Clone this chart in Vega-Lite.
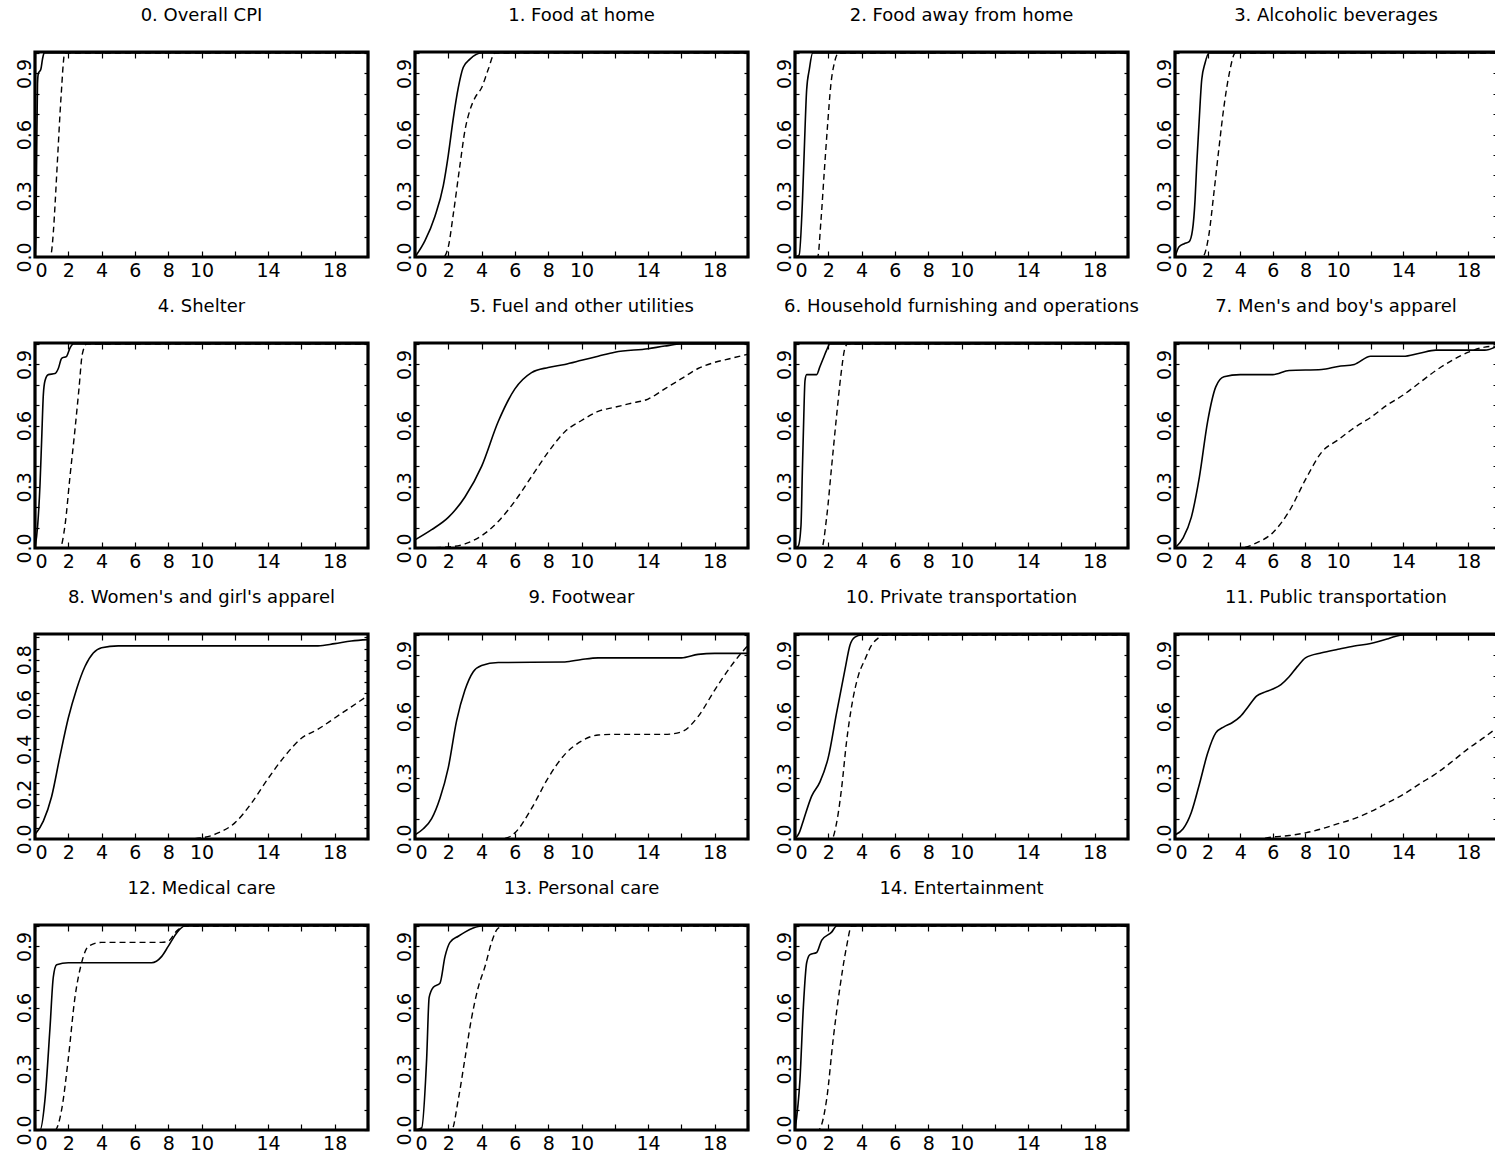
{
"$schema":"https://vega.github.io/schema/vega-lite/v6.json",
"background":"white",
"padding":{"left":13,"top":5,"right":0,"bottom":0},
"autosize":{"type":"pad"},
"config":{
 "view":{"stroke":"black","strokeWidth":3.2},
 "font":"DejaVu Sans",
 "title":{"font":"DejaVu Sans","fontSize":18,"fontWeight":"normal","color":"black","offset":26,"anchor":"middle"},
 "axis":{"domain":false,"grid":false,"tickColor":"black","tickWidth":1.2,"labelColor":"black","labelFont":"DejaVu Sans","labelFontSize":19,"labelOverlap":false}
},
"datasets":{"d":[
{"p":0,"s":"a","x":0,"y":0},{"p":0,"s":"a","x":0.05,"y":0.1},{"p":0,"s":"a","x":0.1,"y":0.5},{"p":0,"s":"a","x":0.15,"y":0.85},{"p":0,"s":"a","x":0.2,"y":0.9},{"p":0,"s":"a","x":0.35,"y":0.92},{"p":0,"s":"a","x":0.45,"y":0.97},{"p":0,"s":"a","x":0.55,"y":1.0},{"p":0,"s":"a","x":20,"y":1.0},
{"p":0,"s":"b","x":0,"y":0},{"p":0,"s":"b","x":0.9,"y":0},{"p":0,"s":"b","x":1.0,"y":0.03},{"p":0,"s":"b","x":1.1,"y":0.12},{"p":0,"s":"b","x":1.2,"y":0.25},{"p":0,"s":"b","x":1.3,"y":0.4},{"p":0,"s":"b","x":1.4,"y":0.55},{"p":0,"s":"b","x":1.5,"y":0.7},{"p":0,"s":"b","x":1.6,"y":0.83},{"p":0,"s":"b","x":1.7,"y":0.95},{"p":0,"s":"b","x":1.78,"y":1.0},{"p":0,"s":"b","x":20,"y":1.0},
{"p":1,"s":"a","x":0,"y":0},{"p":1,"s":"a","x":0.6,"y":0.08},{"p":1,"s":"a","x":1.2,"y":0.2},{"p":1,"s":"a","x":1.7,"y":0.35},{"p":1,"s":"a","x":2.0,"y":0.5},{"p":1,"s":"a","x":2.3,"y":0.68},{"p":1,"s":"a","x":2.6,"y":0.83},{"p":1,"s":"a","x":2.9,"y":0.93},{"p":1,"s":"a","x":3.3,"y":0.97},{"p":1,"s":"a","x":4.0,"y":1.0},{"p":1,"s":"a","x":20,"y":1.0},
{"p":1,"s":"b","x":0,"y":0},{"p":1,"s":"b","x":1.7,"y":0},{"p":1,"s":"b","x":2.0,"y":0.05},{"p":1,"s":"b","x":2.3,"y":0.21},{"p":1,"s":"b","x":2.7,"y":0.45},{"p":1,"s":"b","x":3.0,"y":0.62},{"p":1,"s":"b","x":3.3,"y":0.72},{"p":1,"s":"b","x":3.6,"y":0.78},{"p":1,"s":"b","x":4.0,"y":0.83},{"p":1,"s":"b","x":4.4,"y":0.92},{"p":1,"s":"b","x":4.8,"y":1.0},{"p":1,"s":"b","x":20,"y":1.0},
{"p":2,"s":"a","x":0,"y":0},{"p":2,"s":"a","x":0.25,"y":0.01},{"p":2,"s":"a","x":0.45,"y":0.28},{"p":2,"s":"a","x":0.56,"y":0.53},{"p":2,"s":"a","x":0.7,"y":0.82},{"p":2,"s":"a","x":0.86,"y":0.92},{"p":2,"s":"a","x":1.06,"y":1.0},{"p":2,"s":"a","x":20,"y":1.0},
{"p":2,"s":"b","x":0,"y":0},{"p":2,"s":"b","x":1.36,"y":0},{"p":2,"s":"b","x":1.56,"y":0.18},{"p":2,"s":"b","x":1.76,"y":0.42},{"p":2,"s":"b","x":1.96,"y":0.65},{"p":2,"s":"b","x":2.16,"y":0.85},{"p":2,"s":"b","x":2.36,"y":0.95},{"p":2,"s":"b","x":2.62,"y":1.0},{"p":2,"s":"b","x":20,"y":1.0},
{"p":3,"s":"a","x":0,"y":0},{"p":3,"s":"a","x":0.25,"y":0.05},{"p":3,"s":"a","x":0.57,"y":0.065},{"p":3,"s":"a","x":0.87,"y":0.075},{"p":3,"s":"a","x":1.07,"y":0.13},{"p":3,"s":"a","x":1.23,"y":0.28},{"p":3,"s":"a","x":1.33,"y":0.45},{"p":3,"s":"a","x":1.47,"y":0.65},{"p":3,"s":"a","x":1.64,"y":0.87},{"p":3,"s":"a","x":1.84,"y":0.95},{"p":3,"s":"a","x":2.08,"y":1.0},{"p":3,"s":"a","x":19.75,"y":1.0},
{"p":3,"s":"b","x":0,"y":0},{"p":3,"s":"b","x":1.68,"y":0},{"p":3,"s":"b","x":2.08,"y":0.11},{"p":3,"s":"b","x":2.38,"y":0.31},{"p":3,"s":"b","x":2.69,"y":0.53},{"p":3,"s":"b","x":2.99,"y":0.73},{"p":3,"s":"b","x":3.33,"y":0.9},{"p":3,"s":"b","x":3.7,"y":1.0},{"p":3,"s":"b","x":19.75,"y":1.0},
{"p":4,"s":"a","x":0,"y":0},{"p":4,"s":"a","x":0.16,"y":0.11},{"p":4,"s":"a","x":0.3,"y":0.31},{"p":4,"s":"a","x":0.4,"y":0.53},{"p":4,"s":"a","x":0.5,"y":0.75},{"p":4,"s":"a","x":0.6,"y":0.82},{"p":4,"s":"a","x":0.8,"y":0.85},{"p":4,"s":"a","x":1.2,"y":0.855},{"p":4,"s":"a","x":1.4,"y":0.88},{"p":4,"s":"a","x":1.6,"y":0.93},{"p":4,"s":"a","x":1.9,"y":0.94},{"p":4,"s":"a","x":2.1,"y":0.98},{"p":4,"s":"a","x":2.3,"y":1.0},{"p":4,"s":"a","x":20,"y":1.0},
{"p":4,"s":"b","x":0,"y":0},{"p":4,"s":"b","x":1.5,"y":0},{"p":4,"s":"b","x":1.8,"y":0.11},{"p":4,"s":"b","x":2.1,"y":0.35},{"p":4,"s":"b","x":2.4,"y":0.58},{"p":4,"s":"b","x":2.64,"y":0.78},{"p":4,"s":"b","x":2.84,"y":0.95},{"p":4,"s":"b","x":3.1,"y":1.0},{"p":4,"s":"b","x":20,"y":1.0},
{"p":5,"s":"a","x":0,"y":0.04},{"p":5,"s":"a","x":1,"y":0.09},{"p":5,"s":"a","x":2,"y":0.15},{"p":5,"s":"a","x":3,"y":0.25},{"p":5,"s":"a","x":4,"y":0.4},{"p":5,"s":"a","x":5,"y":0.62},{"p":5,"s":"a","x":6,"y":0.78},{"p":5,"s":"a","x":7,"y":0.86},{"p":5,"s":"a","x":8,"y":0.885},{"p":5,"s":"a","x":9,"y":0.9},{"p":5,"s":"a","x":10,"y":0.92},{"p":5,"s":"a","x":11,"y":0.94},{"p":5,"s":"a","x":12,"y":0.96},{"p":5,"s":"a","x":14,"y":0.977},{"p":5,"s":"a","x":15,"y":0.99},{"p":5,"s":"a","x":16,"y":1.0},{"p":5,"s":"a","x":20,"y":1.0},
{"p":5,"s":"b","x":0,"y":0},{"p":5,"s":"b","x":2,"y":0.005},{"p":5,"s":"b","x":3,"y":0.02},{"p":5,"s":"b","x":4,"y":0.06},{"p":5,"s":"b","x":5,"y":0.13},{"p":5,"s":"b","x":6,"y":0.23},{"p":5,"s":"b","x":7,"y":0.35},{"p":5,"s":"b","x":8,"y":0.47},{"p":5,"s":"b","x":9,"y":0.57},{"p":5,"s":"b","x":10,"y":0.625},{"p":5,"s":"b","x":11,"y":0.67},{"p":5,"s":"b","x":12,"y":0.69},{"p":5,"s":"b","x":13,"y":0.71},{"p":5,"s":"b","x":14,"y":0.73},{"p":5,"s":"b","x":15,"y":0.78},{"p":5,"s":"b","x":16,"y":0.83},{"p":5,"s":"b","x":17,"y":0.88},{"p":5,"s":"b","x":18,"y":0.91},{"p":5,"s":"b","x":19,"y":0.93},{"p":5,"s":"b","x":20,"y":0.95},
{"p":6,"s":"a","x":0,"y":0},{"p":6,"s":"a","x":0.2,"y":0.01},{"p":6,"s":"a","x":0.36,"y":0.11},{"p":6,"s":"a","x":0.44,"y":0.37},{"p":6,"s":"a","x":0.52,"y":0.62},{"p":6,"s":"a","x":0.6,"y":0.82},{"p":6,"s":"a","x":0.7,"y":0.85},{"p":6,"s":"a","x":1.3,"y":0.85},{"p":6,"s":"a","x":1.5,"y":0.89},{"p":6,"s":"a","x":1.7,"y":0.93},{"p":6,"s":"a","x":1.9,"y":0.97},{"p":6,"s":"a","x":2.1,"y":1.0},{"p":6,"s":"a","x":20,"y":1.0},
{"p":6,"s":"b","x":0,"y":0},{"p":6,"s":"b","x":1.6,"y":0},{"p":6,"s":"b","x":1.9,"y":0.15},{"p":6,"s":"b","x":2.2,"y":0.4},{"p":6,"s":"b","x":2.5,"y":0.65},{"p":6,"s":"b","x":2.76,"y":0.85},{"p":6,"s":"b","x":3.0,"y":0.98},{"p":6,"s":"b","x":3.16,"y":1.0},{"p":6,"s":"b","x":20,"y":1.0},
{"p":7,"s":"a","x":0,"y":0},{"p":7,"s":"a","x":0.5,"y":0.05},{"p":7,"s":"a","x":1,"y":0.15},{"p":7,"s":"a","x":1.5,"y":0.35},{"p":7,"s":"a","x":2,"y":0.62},{"p":7,"s":"a","x":2.5,"y":0.79},{"p":7,"s":"a","x":3,"y":0.84},{"p":7,"s":"a","x":4,"y":0.85},{"p":7,"s":"a","x":6,"y":0.85},{"p":7,"s":"a","x":7,"y":0.87},{"p":7,"s":"a","x":9,"y":0.875},{"p":7,"s":"a","x":10,"y":0.89},{"p":7,"s":"a","x":11,"y":0.9},{"p":7,"s":"a","x":12,"y":0.94},{"p":7,"s":"a","x":14,"y":0.94},{"p":7,"s":"a","x":15,"y":0.955},{"p":7,"s":"a","x":16,"y":0.97},{"p":7,"s":"a","x":19,"y":0.97},{"p":7,"s":"a","x":19.75,"y":0.99},
{"p":7,"s":"b","x":0,"y":0},{"p":7,"s":"b","x":4,"y":0},{"p":7,"s":"b","x":5,"y":0.025},{"p":7,"s":"b","x":6,"y":0.075},{"p":7,"s":"b","x":7,"y":0.18},{"p":7,"s":"b","x":8,"y":0.335},{"p":7,"s":"b","x":9,"y":0.47},{"p":7,"s":"b","x":10,"y":0.53},{"p":7,"s":"b","x":11,"y":0.59},{"p":7,"s":"b","x":12,"y":0.64},{"p":7,"s":"b","x":13,"y":0.7},{"p":7,"s":"b","x":14,"y":0.75},{"p":7,"s":"b","x":15,"y":0.81},{"p":7,"s":"b","x":16,"y":0.87},{"p":7,"s":"b","x":17,"y":0.92},{"p":7,"s":"b","x":18,"y":0.96},{"p":7,"s":"b","x":19,"y":0.985},{"p":7,"s":"b","x":19.75,"y":0.99},
{"p":8,"s":"a","x":0,"y":0.02},{"p":8,"s":"a","x":0.5,"y":0.08},{"p":8,"s":"a","x":1,"y":0.19},{"p":8,"s":"a","x":1.5,"y":0.37},{"p":8,"s":"a","x":2,"y":0.54},{"p":8,"s":"a","x":2.5,"y":0.67},{"p":8,"s":"a","x":3,"y":0.77},{"p":8,"s":"a","x":3.5,"y":0.83},{"p":8,"s":"a","x":4,"y":0.854},{"p":8,"s":"a","x":5,"y":0.862},{"p":8,"s":"a","x":17,"y":0.862},{"p":8,"s":"a","x":18,"y":0.872},{"p":8,"s":"a","x":19,"y":0.884},{"p":8,"s":"a","x":20,"y":0.89},
{"p":8,"s":"b","x":0,"y":0},{"p":8,"s":"b","x":9,"y":0},{"p":8,"s":"b","x":10,"y":0.005},{"p":8,"s":"b","x":11,"y":0.027},{"p":8,"s":"b","x":12,"y":0.072},{"p":8,"s":"b","x":13,"y":0.16},{"p":8,"s":"b","x":14,"y":0.27},{"p":8,"s":"b","x":15,"y":0.37},{"p":8,"s":"b","x":16,"y":0.45},{"p":8,"s":"b","x":17,"y":0.49},{"p":8,"s":"b","x":18,"y":0.54},{"p":8,"s":"b","x":19,"y":0.59},{"p":8,"s":"b","x":20,"y":0.64},
{"p":9,"s":"a","x":0,"y":0.02},{"p":9,"s":"a","x":0.5,"y":0.05},{"p":9,"s":"a","x":1,"y":0.1},{"p":9,"s":"a","x":1.5,"y":0.2},{"p":9,"s":"a","x":2,"y":0.35},{"p":9,"s":"a","x":2.5,"y":0.58},{"p":9,"s":"a","x":3,"y":0.73},{"p":9,"s":"a","x":3.5,"y":0.82},{"p":9,"s":"a","x":4,"y":0.85},{"p":9,"s":"a","x":5,"y":0.865},{"p":9,"s":"a","x":9,"y":0.868},{"p":9,"s":"a","x":10,"y":0.88},{"p":9,"s":"a","x":11,"y":0.888},{"p":9,"s":"a","x":16,"y":0.888},{"p":9,"s":"a","x":17,"y":0.905},{"p":9,"s":"a","x":18,"y":0.91},{"p":9,"s":"a","x":20,"y":0.91},
{"p":9,"s":"b","x":0,"y":0},{"p":9,"s":"b","x":5,"y":0},{"p":9,"s":"b","x":5.5,"y":0.005},{"p":9,"s":"b","x":6,"y":0.03},{"p":9,"s":"b","x":7,"y":0.15},{"p":9,"s":"b","x":8,"y":0.3},{"p":9,"s":"b","x":9,"y":0.415},{"p":9,"s":"b","x":10,"y":0.48},{"p":9,"s":"b","x":11,"y":0.51},{"p":9,"s":"b","x":12,"y":0.513},{"p":9,"s":"b","x":15,"y":0.513},{"p":9,"s":"b","x":16,"y":0.525},{"p":9,"s":"b","x":17,"y":0.6},{"p":9,"s":"b","x":18,"y":0.73},{"p":9,"s":"b","x":19,"y":0.85},{"p":9,"s":"b","x":20,"y":0.95},
{"p":10,"s":"a","x":0,"y":0},{"p":10,"s":"a","x":0.25,"y":0.03},{"p":10,"s":"a","x":0.5,"y":0.09},{"p":10,"s":"a","x":1,"y":0.21},{"p":10,"s":"a","x":1.5,"y":0.28},{"p":10,"s":"a","x":2,"y":0.4},{"p":10,"s":"a","x":2.5,"y":0.62},{"p":10,"s":"a","x":3,"y":0.83},{"p":10,"s":"a","x":3.3,"y":0.95},{"p":10,"s":"a","x":3.6,"y":0.99},{"p":10,"s":"a","x":4,"y":1.0},{"p":10,"s":"a","x":20,"y":1.0},
{"p":10,"s":"b","x":0,"y":0},{"p":10,"s":"b","x":2.2,"y":0},{"p":10,"s":"b","x":2.5,"y":0.08},{"p":10,"s":"b","x":2.8,"y":0.25},{"p":10,"s":"b","x":3.1,"y":0.48},{"p":10,"s":"b","x":3.4,"y":0.65},{"p":10,"s":"b","x":3.8,"y":0.8},{"p":10,"s":"b","x":4.2,"y":0.88},{"p":10,"s":"b","x":4.6,"y":0.95},{"p":10,"s":"b","x":5.0,"y":0.985},{"p":10,"s":"b","x":5.3,"y":1.0},{"p":10,"s":"b","x":20,"y":1.0},
{"p":11,"s":"a","x":0,"y":0.02},{"p":11,"s":"a","x":0.5,"y":0.05},{"p":11,"s":"a","x":1,"y":0.13},{"p":11,"s":"a","x":1.5,"y":0.27},{"p":11,"s":"a","x":2,"y":0.42},{"p":11,"s":"a","x":2.5,"y":0.52},{"p":11,"s":"a","x":3,"y":0.55},{"p":11,"s":"a","x":3.5,"y":0.57},{"p":11,"s":"a","x":4,"y":0.6},{"p":11,"s":"a","x":4.5,"y":0.65},{"p":11,"s":"a","x":5,"y":0.7},{"p":11,"s":"a","x":5.5,"y":0.72},{"p":11,"s":"a","x":6,"y":0.735},{"p":11,"s":"a","x":6.5,"y":0.757},{"p":11,"s":"a","x":7,"y":0.795},{"p":11,"s":"a","x":7.5,"y":0.845},{"p":11,"s":"a","x":8,"y":0.888},{"p":11,"s":"a","x":9,"y":0.913},{"p":11,"s":"a","x":10,"y":0.93},{"p":11,"s":"a","x":11,"y":0.946},{"p":11,"s":"a","x":12,"y":0.958},{"p":11,"s":"a","x":13,"y":0.98},{"p":11,"s":"a","x":13.5,"y":0.993},{"p":11,"s":"a","x":14,"y":1.0},{"p":11,"s":"a","x":19.75,"y":1.0},
{"p":11,"s":"b","x":0,"y":0},{"p":11,"s":"b","x":5,"y":0},{"p":11,"s":"b","x":6,"y":0.01},{"p":11,"s":"b","x":7,"y":0.017},{"p":11,"s":"b","x":8,"y":0.03},{"p":11,"s":"b","x":9,"y":0.05},{"p":11,"s":"b","x":10,"y":0.075},{"p":11,"s":"b","x":11,"y":0.1},{"p":11,"s":"b","x":12,"y":0.134},{"p":11,"s":"b","x":13,"y":0.176},{"p":11,"s":"b","x":14,"y":0.218},{"p":11,"s":"b","x":15,"y":0.27},{"p":11,"s":"b","x":16,"y":0.32},{"p":11,"s":"b","x":17,"y":0.38},{"p":11,"s":"b","x":18,"y":0.444},{"p":11,"s":"b","x":19,"y":0.5},{"p":11,"s":"b","x":19.75,"y":0.545},
{"p":12,"s":"a","x":0,"y":0},{"p":12,"s":"a","x":0.3,"y":0},{"p":12,"s":"a","x":0.6,"y":0.15},{"p":12,"s":"a","x":0.9,"y":0.5},{"p":12,"s":"a","x":1.1,"y":0.75},{"p":12,"s":"a","x":1.3,"y":0.81},{"p":12,"s":"a","x":2,"y":0.82},{"p":12,"s":"a","x":7,"y":0.82},{"p":12,"s":"a","x":7.6,"y":0.85},{"p":12,"s":"a","x":8,"y":0.9},{"p":12,"s":"a","x":8.5,"y":0.965},{"p":12,"s":"a","x":9,"y":1.0},{"p":12,"s":"a","x":20,"y":1.0},
{"p":12,"s":"b","x":0,"y":0},{"p":12,"s":"b","x":1.2,"y":0},{"p":12,"s":"b","x":1.6,"y":0.1},{"p":12,"s":"b","x":2,"y":0.35},{"p":12,"s":"b","x":2.4,"y":0.65},{"p":12,"s":"b","x":2.8,"y":0.82},{"p":12,"s":"b","x":3.2,"y":0.9},{"p":12,"s":"b","x":4,"y":0.92},{"p":12,"s":"b","x":7.6,"y":0.92},{"p":12,"s":"b","x":8,"y":0.925},{"p":12,"s":"b","x":8.5,"y":0.975},{"p":12,"s":"b","x":9,"y":1.0},{"p":12,"s":"b","x":20,"y":1.0},
{"p":13,"s":"a","x":0,"y":0},{"p":13,"s":"a","x":0.4,"y":0.01},{"p":13,"s":"a","x":0.7,"y":0.35},{"p":13,"s":"a","x":0.85,"y":0.65},{"p":13,"s":"a","x":1.1,"y":0.7},{"p":13,"s":"a","x":1.5,"y":0.72},{"p":13,"s":"a","x":1.8,"y":0.85},{"p":13,"s":"a","x":2.1,"y":0.92},{"p":13,"s":"a","x":2.6,"y":0.95},{"p":13,"s":"a","x":3,"y":0.97},{"p":13,"s":"a","x":3.5,"y":0.99},{"p":13,"s":"a","x":4,"y":1.0},{"p":13,"s":"a","x":20,"y":1.0},
{"p":13,"s":"b","x":0,"y":0},{"p":13,"s":"b","x":2.2,"y":0},{"p":13,"s":"b","x":2.6,"y":0.15},{"p":13,"s":"b","x":3,"y":0.35},{"p":13,"s":"b","x":3.4,"y":0.55},{"p":13,"s":"b","x":3.8,"y":0.7},{"p":13,"s":"b","x":4.2,"y":0.8},{"p":13,"s":"b","x":4.6,"y":0.92},{"p":13,"s":"b","x":5,"y":0.99},{"p":13,"s":"b","x":5.5,"y":1.0},{"p":13,"s":"b","x":20,"y":1.0},
{"p":14,"s":"a","x":0,"y":0},{"p":14,"s":"a","x":0.3,"y":0.25},{"p":14,"s":"a","x":0.5,"y":0.6},{"p":14,"s":"a","x":0.7,"y":0.82},{"p":14,"s":"a","x":0.9,"y":0.86},{"p":14,"s":"a","x":1.3,"y":0.87},{"p":14,"s":"a","x":1.6,"y":0.93},{"p":14,"s":"a","x":2.2,"y":0.97},{"p":14,"s":"a","x":2.5,"y":1.0},{"p":14,"s":"a","x":20,"y":1.0},
{"p":14,"s":"b","x":0,"y":0},{"p":14,"s":"b","x":1.4,"y":0},{"p":14,"s":"b","x":1.9,"y":0.15},{"p":14,"s":"b","x":2.3,"y":0.45},{"p":14,"s":"b","x":2.7,"y":0.7},{"p":14,"s":"b","x":3.1,"y":0.9},{"p":14,"s":"b","x":3.4,"y":1.0},{"p":14,"s":"b","x":20,"y":1.0}
]},
"data":{"name":"d"},
"columns":4,
"bounds":"flush",
"spacing":{"row":86,"column":47},
"concat":[
{"title":"0. Overall CPI","width":333,"height":205,"transform":[{"filter":"datum.p == 0"}],
 "layer":[
  {"transform":[{"filter":"datum.s == 'a'"}],"mark":{"type":"line","color":"black","strokeWidth":1.6,"interpolate":"monotone","clip":true},
   "encoding":{"x":{"field":"x","type":"quantitative","scale":{"domain":[0,20],"nice":false,"zero":false},"axis":{"orient":"bottom","values":[0,2,4,6,8,10,12,14,16,18,20],"labelExpr":"datum.value == 12 || datum.value == 16 || datum.value == 20 ? '' : datum.label","labelFlush":true,"tickSize":-6,"labelPadding":10,"title":null}},
    "y":{"field":"y","type":"quantitative","scale":{"domain":[0,1.005],"nice":false},"axis":{"orient":"left","values":[0,0.1,0.2,0.3,0.4,0.5,0.6,0.7,0.8,0.9,1.0],"format":".1f","labelExpr":"indexof(['0.0','0.3','0.6','0.9'], datum.label) >= 0 ? datum.label : ''","labelAngle":-90,"labelAlign":"center","labelBaseline":"alphabetic","tickSize":-4,"labelPadding":9,"title":null}}}},
  {"transform":[{"filter":"datum.s == 'b'"}],"mark":{"type":"line","color":"black","strokeWidth":1.4,"strokeDash":[6,4],"interpolate":"monotone","clip":true},
   "encoding":{"x":{"field":"x","type":"quantitative","axis":{"orient":"top","values":[0,2,4,6,8,10,12,14,16,18,20],"labels":false,"tickSize":-6,"title":null}},
    "y":{"field":"y","type":"quantitative","axis":{"orient":"right","values":[0,0.1,0.2,0.3,0.4,0.5,0.6,0.7,0.8,0.9,1.0],"labels":false,"tickSize":-4,"title":null}}}}
 ],"resolve":{"axis":{"x":"independent","y":"independent"}}},
{"title":"1. Food at home","width":333,"height":205,"transform":[{"filter":"datum.p == 1"}],
 "layer":[
  {"transform":[{"filter":"datum.s == 'a'"}],"mark":{"type":"line","color":"black","strokeWidth":1.6,"interpolate":"monotone","clip":true},
   "encoding":{"x":{"field":"x","type":"quantitative","scale":{"domain":[0,20],"nice":false,"zero":false},"axis":{"orient":"bottom","values":[0,2,4,6,8,10,12,14,16,18,20],"labelExpr":"datum.value == 12 || datum.value == 16 || datum.value == 20 ? '' : datum.label","labelFlush":true,"tickSize":-6,"labelPadding":10,"title":null}},
    "y":{"field":"y","type":"quantitative","scale":{"domain":[0,1.005],"nice":false},"axis":{"orient":"left","values":[0,0.1,0.2,0.3,0.4,0.5,0.6,0.7,0.8,0.9,1.0],"format":".1f","labelExpr":"indexof(['0.0','0.3','0.6','0.9'], datum.label) >= 0 ? datum.label : ''","labelAngle":-90,"labelAlign":"center","labelBaseline":"alphabetic","tickSize":-4,"labelPadding":9,"title":null}}}},
  {"transform":[{"filter":"datum.s == 'b'"}],"mark":{"type":"line","color":"black","strokeWidth":1.4,"strokeDash":[6,4],"interpolate":"monotone","clip":true},
   "encoding":{"x":{"field":"x","type":"quantitative","axis":{"orient":"top","values":[0,2,4,6,8,10,12,14,16,18,20],"labels":false,"tickSize":-6,"title":null}},
    "y":{"field":"y","type":"quantitative","axis":{"orient":"right","values":[0,0.1,0.2,0.3,0.4,0.5,0.6,0.7,0.8,0.9,1.0],"labels":false,"tickSize":-4,"title":null}}}}
 ],"resolve":{"axis":{"x":"independent","y":"independent"}}},
{"title":"2. Food away from home","width":333,"height":205,"transform":[{"filter":"datum.p == 2"}],
 "layer":[
  {"transform":[{"filter":"datum.s == 'a'"}],"mark":{"type":"line","color":"black","strokeWidth":1.6,"interpolate":"monotone","clip":true},
   "encoding":{"x":{"field":"x","type":"quantitative","scale":{"domain":[0,20],"nice":false,"zero":false},"axis":{"orient":"bottom","values":[0,2,4,6,8,10,12,14,16,18,20],"labelExpr":"datum.value == 12 || datum.value == 16 || datum.value == 20 ? '' : datum.label","labelFlush":true,"tickSize":-6,"labelPadding":10,"title":null}},
    "y":{"field":"y","type":"quantitative","scale":{"domain":[0,1.005],"nice":false},"axis":{"orient":"left","values":[0,0.1,0.2,0.3,0.4,0.5,0.6,0.7,0.8,0.9,1.0],"format":".1f","labelExpr":"indexof(['0.0','0.3','0.6','0.9'], datum.label) >= 0 ? datum.label : ''","labelAngle":-90,"labelAlign":"center","labelBaseline":"alphabetic","tickSize":-4,"labelPadding":9,"title":null}}}},
  {"transform":[{"filter":"datum.s == 'b'"}],"mark":{"type":"line","color":"black","strokeWidth":1.4,"strokeDash":[6,4],"interpolate":"monotone","clip":true},
   "encoding":{"x":{"field":"x","type":"quantitative","axis":{"orient":"top","values":[0,2,4,6,8,10,12,14,16,18,20],"labels":false,"tickSize":-6,"title":null}},
    "y":{"field":"y","type":"quantitative","axis":{"orient":"right","values":[0,0.1,0.2,0.3,0.4,0.5,0.6,0.7,0.8,0.9,1.0],"labels":false,"tickSize":-4,"title":null}}}}
 ],"resolve":{"axis":{"x":"independent","y":"independent"}}},
{"title":"3. Alcoholic beverages","width":322,"height":205,"transform":[{"filter":"datum.p == 3"}],
 "layer":[
  {"transform":[{"filter":"datum.s == 'a'"}],"mark":{"type":"line","color":"black","strokeWidth":1.6,"interpolate":"monotone","clip":true},
   "encoding":{"x":{"field":"x","type":"quantitative","scale":{"domain":[0,19.75],"nice":false,"zero":false},"axis":{"orient":"bottom","values":[0,2,4,6,8,10,12,14,16,18],"labelExpr":"datum.value == 12 || datum.value == 16 ? '' : datum.label","labelFlush":true,"tickSize":-6,"labelPadding":10,"title":null}},
    "y":{"field":"y","type":"quantitative","scale":{"domain":[0,1.005],"nice":false},"axis":{"orient":"left","values":[0,0.1,0.2,0.3,0.4,0.5,0.6,0.7,0.8,0.9,1.0],"format":".1f","labelExpr":"indexof(['0.0','0.3','0.6','0.9'], datum.label) >= 0 ? datum.label : ''","labelAngle":-90,"labelAlign":"center","labelBaseline":"alphabetic","tickSize":-4,"labelPadding":9,"title":null}}}},
  {"transform":[{"filter":"datum.s == 'b'"}],"mark":{"type":"line","color":"black","strokeWidth":1.4,"strokeDash":[6,4],"interpolate":"monotone","clip":true},
   "encoding":{"x":{"field":"x","type":"quantitative","axis":{"orient":"top","values":[0,2,4,6,8,10,12,14,16,18],"labels":false,"tickSize":-6,"title":null}},
    "y":{"field":"y","type":"quantitative","axis":{"orient":"right","values":[0,0.1,0.2,0.3,0.4,0.5,0.6,0.7,0.8,0.9,1.0],"labels":false,"tickSize":-4,"title":null}}}}
 ],"resolve":{"axis":{"x":"independent","y":"independent"}}},
{"title":"4. Shelter","width":333,"height":205,"transform":[{"filter":"datum.p == 4"}],
 "layer":[
  {"transform":[{"filter":"datum.s == 'a'"}],"mark":{"type":"line","color":"black","strokeWidth":1.6,"interpolate":"monotone","clip":true},
   "encoding":{"x":{"field":"x","type":"quantitative","scale":{"domain":[0,20],"nice":false,"zero":false},"axis":{"orient":"bottom","values":[0,2,4,6,8,10,12,14,16,18,20],"labelExpr":"datum.value == 12 || datum.value == 16 || datum.value == 20 ? '' : datum.label","labelFlush":true,"tickSize":-6,"labelPadding":10,"title":null}},
    "y":{"field":"y","type":"quantitative","scale":{"domain":[0,1.005],"nice":false},"axis":{"orient":"left","values":[0,0.1,0.2,0.3,0.4,0.5,0.6,0.7,0.8,0.9,1.0],"format":".1f","labelExpr":"indexof(['0.0','0.3','0.6','0.9'], datum.label) >= 0 ? datum.label : ''","labelAngle":-90,"labelAlign":"center","labelBaseline":"alphabetic","tickSize":-4,"labelPadding":9,"title":null}}}},
  {"transform":[{"filter":"datum.s == 'b'"}],"mark":{"type":"line","color":"black","strokeWidth":1.4,"strokeDash":[6,4],"interpolate":"monotone","clip":true},
   "encoding":{"x":{"field":"x","type":"quantitative","axis":{"orient":"top","values":[0,2,4,6,8,10,12,14,16,18,20],"labels":false,"tickSize":-6,"title":null}},
    "y":{"field":"y","type":"quantitative","axis":{"orient":"right","values":[0,0.1,0.2,0.3,0.4,0.5,0.6,0.7,0.8,0.9,1.0],"labels":false,"tickSize":-4,"title":null}}}}
 ],"resolve":{"axis":{"x":"independent","y":"independent"}}},
{"title":"5. Fuel and other utilities","width":333,"height":205,"transform":[{"filter":"datum.p == 5"}],
 "layer":[
  {"transform":[{"filter":"datum.s == 'a'"}],"mark":{"type":"line","color":"black","strokeWidth":1.6,"interpolate":"monotone","clip":true},
   "encoding":{"x":{"field":"x","type":"quantitative","scale":{"domain":[0,20],"nice":false,"zero":false},"axis":{"orient":"bottom","values":[0,2,4,6,8,10,12,14,16,18,20],"labelExpr":"datum.value == 12 || datum.value == 16 || datum.value == 20 ? '' : datum.label","labelFlush":true,"tickSize":-6,"labelPadding":10,"title":null}},
    "y":{"field":"y","type":"quantitative","scale":{"domain":[0,1.005],"nice":false},"axis":{"orient":"left","values":[0,0.1,0.2,0.3,0.4,0.5,0.6,0.7,0.8,0.9,1.0],"format":".1f","labelExpr":"indexof(['0.0','0.3','0.6','0.9'], datum.label) >= 0 ? datum.label : ''","labelAngle":-90,"labelAlign":"center","labelBaseline":"alphabetic","tickSize":-4,"labelPadding":9,"title":null}}}},
  {"transform":[{"filter":"datum.s == 'b'"}],"mark":{"type":"line","color":"black","strokeWidth":1.4,"strokeDash":[6,4],"interpolate":"monotone","clip":true},
   "encoding":{"x":{"field":"x","type":"quantitative","axis":{"orient":"top","values":[0,2,4,6,8,10,12,14,16,18,20],"labels":false,"tickSize":-6,"title":null}},
    "y":{"field":"y","type":"quantitative","axis":{"orient":"right","values":[0,0.1,0.2,0.3,0.4,0.5,0.6,0.7,0.8,0.9,1.0],"labels":false,"tickSize":-4,"title":null}}}}
 ],"resolve":{"axis":{"x":"independent","y":"independent"}}},
{"title":"6. Household furnishing and operations","width":333,"height":205,"transform":[{"filter":"datum.p == 6"}],
 "layer":[
  {"transform":[{"filter":"datum.s == 'a'"}],"mark":{"type":"line","color":"black","strokeWidth":1.6,"interpolate":"monotone","clip":true},
   "encoding":{"x":{"field":"x","type":"quantitative","scale":{"domain":[0,20],"nice":false,"zero":false},"axis":{"orient":"bottom","values":[0,2,4,6,8,10,12,14,16,18,20],"labelExpr":"datum.value == 12 || datum.value == 16 || datum.value == 20 ? '' : datum.label","labelFlush":true,"tickSize":-6,"labelPadding":10,"title":null}},
    "y":{"field":"y","type":"quantitative","scale":{"domain":[0,1.005],"nice":false},"axis":{"orient":"left","values":[0,0.1,0.2,0.3,0.4,0.5,0.6,0.7,0.8,0.9,1.0],"format":".1f","labelExpr":"indexof(['0.0','0.3','0.6','0.9'], datum.label) >= 0 ? datum.label : ''","labelAngle":-90,"labelAlign":"center","labelBaseline":"alphabetic","tickSize":-4,"labelPadding":9,"title":null}}}},
  {"transform":[{"filter":"datum.s == 'b'"}],"mark":{"type":"line","color":"black","strokeWidth":1.4,"strokeDash":[6,4],"interpolate":"monotone","clip":true},
   "encoding":{"x":{"field":"x","type":"quantitative","axis":{"orient":"top","values":[0,2,4,6,8,10,12,14,16,18,20],"labels":false,"tickSize":-6,"title":null}},
    "y":{"field":"y","type":"quantitative","axis":{"orient":"right","values":[0,0.1,0.2,0.3,0.4,0.5,0.6,0.7,0.8,0.9,1.0],"labels":false,"tickSize":-4,"title":null}}}}
 ],"resolve":{"axis":{"x":"independent","y":"independent"}}},
{"title":"7. Men's and boy's apparel","width":322,"height":205,"transform":[{"filter":"datum.p == 7"}],
 "layer":[
  {"transform":[{"filter":"datum.s == 'a'"}],"mark":{"type":"line","color":"black","strokeWidth":1.6,"interpolate":"monotone","clip":true},
   "encoding":{"x":{"field":"x","type":"quantitative","scale":{"domain":[0,19.75],"nice":false,"zero":false},"axis":{"orient":"bottom","values":[0,2,4,6,8,10,12,14,16,18],"labelExpr":"datum.value == 12 || datum.value == 16 ? '' : datum.label","labelFlush":true,"tickSize":-6,"labelPadding":10,"title":null}},
    "y":{"field":"y","type":"quantitative","scale":{"domain":[0,1.005],"nice":false},"axis":{"orient":"left","values":[0,0.1,0.2,0.3,0.4,0.5,0.6,0.7,0.8,0.9,1.0],"format":".1f","labelExpr":"indexof(['0.0','0.3','0.6','0.9'], datum.label) >= 0 ? datum.label : ''","labelAngle":-90,"labelAlign":"center","labelBaseline":"alphabetic","tickSize":-4,"labelPadding":9,"title":null}}}},
  {"transform":[{"filter":"datum.s == 'b'"}],"mark":{"type":"line","color":"black","strokeWidth":1.4,"strokeDash":[6,4],"interpolate":"monotone","clip":true},
   "encoding":{"x":{"field":"x","type":"quantitative","axis":{"orient":"top","values":[0,2,4,6,8,10,12,14,16,18],"labels":false,"tickSize":-6,"title":null}},
    "y":{"field":"y","type":"quantitative","axis":{"orient":"right","values":[0,0.1,0.2,0.3,0.4,0.5,0.6,0.7,0.8,0.9,1.0],"labels":false,"tickSize":-4,"title":null}}}}
 ],"resolve":{"axis":{"x":"independent","y":"independent"}}},
{"title":"8. Women's and girl's apparel","width":333,"height":205,"transform":[{"filter":"datum.p == 8"}],
 "layer":[
  {"transform":[{"filter":"datum.s == 'a'"}],"mark":{"type":"line","color":"black","strokeWidth":1.6,"interpolate":"monotone","clip":true},
   "encoding":{"x":{"field":"x","type":"quantitative","scale":{"domain":[0,20],"nice":false,"zero":false},"axis":{"orient":"bottom","values":[0,2,4,6,8,10,12,14,16,18,20],"labelExpr":"datum.value == 12 || datum.value == 16 || datum.value == 20 ? '' : datum.label","labelFlush":true,"tickSize":-6,"labelPadding":10,"title":null}},
    "y":{"field":"y","type":"quantitative","scale":{"domain":[0,0.915],"nice":false},"axis":{"orient":"left","values":[0,0.05,0.1,0.15,0.2,0.25,0.3,0.35,0.4,0.45,0.5,0.55,0.6,0.65,0.7,0.75,0.8,0.85,0.9],"format":".2f","labelExpr":"indexof(['0.00','0.20','0.40','0.60','0.80'], datum.label) >= 0 ? slice(datum.label, 0, 3) : ''","labelAngle":-90,"labelAlign":"center","labelBaseline":"alphabetic","tickSize":-4,"labelPadding":9,"title":null}}}},
  {"transform":[{"filter":"datum.s == 'b'"}],"mark":{"type":"line","color":"black","strokeWidth":1.4,"strokeDash":[6,4],"interpolate":"monotone","clip":true},
   "encoding":{"x":{"field":"x","type":"quantitative","axis":{"orient":"top","values":[0,2,4,6,8,10,12,14,16,18,20],"labels":false,"tickSize":-6,"title":null}},
    "y":{"field":"y","type":"quantitative","axis":{"orient":"right","values":[0,0.05,0.1,0.15,0.2,0.25,0.3,0.35,0.4,0.45,0.5,0.55,0.6,0.65,0.7,0.75,0.8,0.85,0.9],"labels":false,"tickSize":-4,"title":null}}}}
 ],"resolve":{"axis":{"x":"independent","y":"independent"}}},
{"title":"9. Footwear","width":333,"height":205,"transform":[{"filter":"datum.p == 9"}],
 "layer":[
  {"transform":[{"filter":"datum.s == 'a'"}],"mark":{"type":"line","color":"black","strokeWidth":1.6,"interpolate":"monotone","clip":true},
   "encoding":{"x":{"field":"x","type":"quantitative","scale":{"domain":[0,20],"nice":false,"zero":false},"axis":{"orient":"bottom","values":[0,2,4,6,8,10,12,14,16,18,20],"labelExpr":"datum.value == 12 || datum.value == 16 || datum.value == 20 ? '' : datum.label","labelFlush":true,"tickSize":-6,"labelPadding":10,"title":null}},
    "y":{"field":"y","type":"quantitative","scale":{"domain":[0,1.005],"nice":false},"axis":{"orient":"left","values":[0,0.1,0.2,0.3,0.4,0.5,0.6,0.7,0.8,0.9,1.0],"format":".1f","labelExpr":"indexof(['0.0','0.3','0.6','0.9'], datum.label) >= 0 ? datum.label : ''","labelAngle":-90,"labelAlign":"center","labelBaseline":"alphabetic","tickSize":-4,"labelPadding":9,"title":null}}}},
  {"transform":[{"filter":"datum.s == 'b'"}],"mark":{"type":"line","color":"black","strokeWidth":1.4,"strokeDash":[6,4],"interpolate":"monotone","clip":true},
   "encoding":{"x":{"field":"x","type":"quantitative","axis":{"orient":"top","values":[0,2,4,6,8,10,12,14,16,18,20],"labels":false,"tickSize":-6,"title":null}},
    "y":{"field":"y","type":"quantitative","axis":{"orient":"right","values":[0,0.1,0.2,0.3,0.4,0.5,0.6,0.7,0.8,0.9,1.0],"labels":false,"tickSize":-4,"title":null}}}}
 ],"resolve":{"axis":{"x":"independent","y":"independent"}}},
{"title":"10. Private transportation","width":333,"height":205,"transform":[{"filter":"datum.p == 10"}],
 "layer":[
  {"transform":[{"filter":"datum.s == 'a'"}],"mark":{"type":"line","color":"black","strokeWidth":1.6,"interpolate":"monotone","clip":true},
   "encoding":{"x":{"field":"x","type":"quantitative","scale":{"domain":[0,20],"nice":false,"zero":false},"axis":{"orient":"bottom","values":[0,2,4,6,8,10,12,14,16,18,20],"labelExpr":"datum.value == 12 || datum.value == 16 || datum.value == 20 ? '' : datum.label","labelFlush":true,"tickSize":-6,"labelPadding":10,"title":null}},
    "y":{"field":"y","type":"quantitative","scale":{"domain":[0,1.005],"nice":false},"axis":{"orient":"left","values":[0,0.1,0.2,0.3,0.4,0.5,0.6,0.7,0.8,0.9,1.0],"format":".1f","labelExpr":"indexof(['0.0','0.3','0.6','0.9'], datum.label) >= 0 ? datum.label : ''","labelAngle":-90,"labelAlign":"center","labelBaseline":"alphabetic","tickSize":-4,"labelPadding":9,"title":null}}}},
  {"transform":[{"filter":"datum.s == 'b'"}],"mark":{"type":"line","color":"black","strokeWidth":1.4,"strokeDash":[6,4],"interpolate":"monotone","clip":true},
   "encoding":{"x":{"field":"x","type":"quantitative","axis":{"orient":"top","values":[0,2,4,6,8,10,12,14,16,18,20],"labels":false,"tickSize":-6,"title":null}},
    "y":{"field":"y","type":"quantitative","axis":{"orient":"right","values":[0,0.1,0.2,0.3,0.4,0.5,0.6,0.7,0.8,0.9,1.0],"labels":false,"tickSize":-4,"title":null}}}}
 ],"resolve":{"axis":{"x":"independent","y":"independent"}}},
{"title":"11. Public transportation","width":322,"height":205,"transform":[{"filter":"datum.p == 11"}],
 "layer":[
  {"transform":[{"filter":"datum.s == 'a'"}],"mark":{"type":"line","color":"black","strokeWidth":1.6,"interpolate":"monotone","clip":true},
   "encoding":{"x":{"field":"x","type":"quantitative","scale":{"domain":[0,19.75],"nice":false,"zero":false},"axis":{"orient":"bottom","values":[0,2,4,6,8,10,12,14,16,18],"labelExpr":"datum.value == 12 || datum.value == 16 ? '' : datum.label","labelFlush":true,"tickSize":-6,"labelPadding":10,"title":null}},
    "y":{"field":"y","type":"quantitative","scale":{"domain":[0,1.005],"nice":false},"axis":{"orient":"left","values":[0,0.1,0.2,0.3,0.4,0.5,0.6,0.7,0.8,0.9,1.0],"format":".1f","labelExpr":"indexof(['0.0','0.3','0.6','0.9'], datum.label) >= 0 ? datum.label : ''","labelAngle":-90,"labelAlign":"center","labelBaseline":"alphabetic","tickSize":-4,"labelPadding":9,"title":null}}}},
  {"transform":[{"filter":"datum.s == 'b'"}],"mark":{"type":"line","color":"black","strokeWidth":1.4,"strokeDash":[6,4],"interpolate":"monotone","clip":true},
   "encoding":{"x":{"field":"x","type":"quantitative","axis":{"orient":"top","values":[0,2,4,6,8,10,12,14,16,18],"labels":false,"tickSize":-6,"title":null}},
    "y":{"field":"y","type":"quantitative","axis":{"orient":"right","values":[0,0.1,0.2,0.3,0.4,0.5,0.6,0.7,0.8,0.9,1.0],"labels":false,"tickSize":-4,"title":null}}}}
 ],"resolve":{"axis":{"x":"independent","y":"independent"}}},
{"title":"12. Medical care","width":333,"height":205,"transform":[{"filter":"datum.p == 12"}],
 "layer":[
  {"transform":[{"filter":"datum.s == 'a'"}],"mark":{"type":"line","color":"black","strokeWidth":1.6,"interpolate":"monotone","clip":true},
   "encoding":{"x":{"field":"x","type":"quantitative","scale":{"domain":[0,20],"nice":false,"zero":false},"axis":{"orient":"bottom","values":[0,2,4,6,8,10,12,14,16,18,20],"labelExpr":"datum.value == 12 || datum.value == 16 || datum.value == 20 ? '' : datum.label","labelFlush":true,"tickSize":-6,"labelPadding":10,"title":null}},
    "y":{"field":"y","type":"quantitative","scale":{"domain":[0,1.005],"nice":false},"axis":{"orient":"left","values":[0,0.1,0.2,0.3,0.4,0.5,0.6,0.7,0.8,0.9,1.0],"format":".1f","labelExpr":"indexof(['0.0','0.3','0.6','0.9'], datum.label) >= 0 ? datum.label : ''","labelAngle":-90,"labelAlign":"center","labelBaseline":"alphabetic","tickSize":-4,"labelPadding":9,"title":null}}}},
  {"transform":[{"filter":"datum.s == 'b'"}],"mark":{"type":"line","color":"black","strokeWidth":1.4,"strokeDash":[6,4],"interpolate":"monotone","clip":true},
   "encoding":{"x":{"field":"x","type":"quantitative","axis":{"orient":"top","values":[0,2,4,6,8,10,12,14,16,18,20],"labels":false,"tickSize":-6,"title":null}},
    "y":{"field":"y","type":"quantitative","axis":{"orient":"right","values":[0,0.1,0.2,0.3,0.4,0.5,0.6,0.7,0.8,0.9,1.0],"labels":false,"tickSize":-4,"title":null}}}}
 ],"resolve":{"axis":{"x":"independent","y":"independent"}}},
{"title":"13. Personal care","width":333,"height":205,"transform":[{"filter":"datum.p == 13"}],
 "layer":[
  {"transform":[{"filter":"datum.s == 'a'"}],"mark":{"type":"line","color":"black","strokeWidth":1.6,"interpolate":"monotone","clip":true},
   "encoding":{"x":{"field":"x","type":"quantitative","scale":{"domain":[0,20],"nice":false,"zero":false},"axis":{"orient":"bottom","values":[0,2,4,6,8,10,12,14,16,18,20],"labelExpr":"datum.value == 12 || datum.value == 16 || datum.value == 20 ? '' : datum.label","labelFlush":true,"tickSize":-6,"labelPadding":10,"title":null}},
    "y":{"field":"y","type":"quantitative","scale":{"domain":[0,1.005],"nice":false},"axis":{"orient":"left","values":[0,0.1,0.2,0.3,0.4,0.5,0.6,0.7,0.8,0.9,1.0],"format":".1f","labelExpr":"indexof(['0.0','0.3','0.6','0.9'], datum.label) >= 0 ? datum.label : ''","labelAngle":-90,"labelAlign":"center","labelBaseline":"alphabetic","tickSize":-4,"labelPadding":9,"title":null}}}},
  {"transform":[{"filter":"datum.s == 'b'"}],"mark":{"type":"line","color":"black","strokeWidth":1.4,"strokeDash":[6,4],"interpolate":"monotone","clip":true},
   "encoding":{"x":{"field":"x","type":"quantitative","axis":{"orient":"top","values":[0,2,4,6,8,10,12,14,16,18,20],"labels":false,"tickSize":-6,"title":null}},
    "y":{"field":"y","type":"quantitative","axis":{"orient":"right","values":[0,0.1,0.2,0.3,0.4,0.5,0.6,0.7,0.8,0.9,1.0],"labels":false,"tickSize":-4,"title":null}}}}
 ],"resolve":{"axis":{"x":"independent","y":"independent"}}},
{"title":"14. Entertainment","width":333,"height":205,"transform":[{"filter":"datum.p == 14"}],
 "layer":[
  {"transform":[{"filter":"datum.s == 'a'"}],"mark":{"type":"line","color":"black","strokeWidth":1.6,"interpolate":"monotone","clip":true},
   "encoding":{"x":{"field":"x","type":"quantitative","scale":{"domain":[0,20],"nice":false,"zero":false},"axis":{"orient":"bottom","values":[0,2,4,6,8,10,12,14,16,18,20],"labelExpr":"datum.value == 12 || datum.value == 16 || datum.value == 20 ? '' : datum.label","labelFlush":true,"tickSize":-6,"labelPadding":10,"title":null}},
    "y":{"field":"y","type":"quantitative","scale":{"domain":[0,1.005],"nice":false},"axis":{"orient":"left","values":[0,0.1,0.2,0.3,0.4,0.5,0.6,0.7,0.8,0.9,1.0],"format":".1f","labelExpr":"indexof(['0.0','0.3','0.6','0.9'], datum.label) >= 0 ? datum.label : ''","labelAngle":-90,"labelAlign":"center","labelBaseline":"alphabetic","tickSize":-4,"labelPadding":9,"title":null}}}},
  {"transform":[{"filter":"datum.s == 'b'"}],"mark":{"type":"line","color":"black","strokeWidth":1.4,"strokeDash":[6,4],"interpolate":"monotone","clip":true},
   "encoding":{"x":{"field":"x","type":"quantitative","axis":{"orient":"top","values":[0,2,4,6,8,10,12,14,16,18,20],"labels":false,"tickSize":-6,"title":null}},
    "y":{"field":"y","type":"quantitative","axis":{"orient":"right","values":[0,0.1,0.2,0.3,0.4,0.5,0.6,0.7,0.8,0.9,1.0],"labels":false,"tickSize":-4,"title":null}}}}
 ],"resolve":{"axis":{"x":"independent","y":"independent"}}}
]
}
